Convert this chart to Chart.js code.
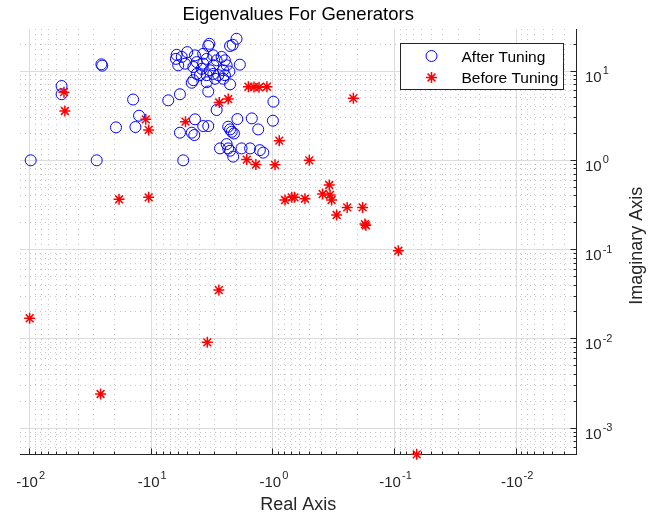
<!DOCTYPE html>
<html>
<head>
<meta charset="utf-8">
<script src="https://cdn.jsdelivr.net/npm/chart.js@4.4.1/dist/chart.umd.min.js"></script>
<style>
  html, body { margin: 0; padding: 0; background: #fff; }
  #wrap { width: 661px; height: 516px; }
</style>
</head>
<body>
<div id="wrap"><canvas id="eigChart" width="661" height="516"></canvas></div>
<script>
/* Eigenvalues For Generators - log/log scatter of eigenvalues */
const FONT = '"Liberation Sans", Arial, Helvetica, sans-serif';

// After tuning eigenvalues (real part, imaginary part)
const afterRe = [-25.7, -25.3, -54.6, -54.6, -14.1, -12.6, -13.5, -19.5, -98, -28.1,
  -1.99, -2.14, -2.25, -3.33, -3.40, -5.06, -6.18, -6.27, -6.0, -5.62,
  -5.28, -4.37, -4.23, -4.51, -3.74, -3.50, -3.74, -3.85, -3.09, -2.90,
  -3.09, -3.29, -2.64, -2.48, -2.40, -2.56, -2.28, -1.87, -4.23, -3.98,
  -3.50, -3.09, -2.81, -2.48, -4.51, -4.65, -3.50, -2.99, -2.56, -2.25,
  -3.40, -5.81, -7.25, -2.90, -4.37, -3.74, -3.40, -5.81, -4.65, -4.43,
  -1.96, -1.49, -1.32, -1.00, -2.33, -2.25, -2.18, -2.09, -2.72, -2.40,
  -2.33, -2.25, -2.12, -1.81, -1.54, -1.28, -1.20, -5.46, -0.99];
const afterIm = [11.9, 11.5, 6.8, 5.5, 4.8, 3.16, 2.36, 2.34, 1.0, 1.0,
  23.0, 19.7, 19.1, 20.2, 19.1, 16.3, 15.2, 13.7, 11.6, 14.4,
  12.1, 15.0, 12.6, 11.1, 15.6, 13.7, 12.1, 10.6, 15.0, 13.2,
  11.6, 10.2, 14.4, 13.2, 11.6, 10.2, 9.9, 11.8, 9.3, 9.0,
  9.0, 9.3, 9.0, 9.0, 7.9, 7.4, 7.5, 8.2, 8.2, 7.1,
  5.9, 5.5, 4.7, 3.66, 2.88, 2.42, 2.42, 2.04, 2.04, 1.92,
  2.90, 2.95, 2.22, 2.78, 2.38, 2.22, 2.09, 2.0, 1.36, 1.52,
  1.36, 1.28, 1.10, 1.36, 1.36, 1.30, 1.22, 1.0, 4.54];

// Before tuning eigenvalues
const beforeRe = [-52.2, -51.3, -11.1, -10.5, -18.4, -10.5, -1.59, -1.43, -1.30, -1.12,
  -2.76, -2.33, -5.23, -0.886, -1.64, -1.38, -0.961, -0.218, -0.502, -0.344,
  -0.390, -0.339, -0.329, -0.795, -0.700, -0.664, -0.545, -0.245, -0.183, -0.299,
  -0.175, -0.172, -0.093, -2.78, -100, -3.46, -26.1, -0.0657];
const beforeIm = [5.8, 3.57, 2.88, 2.19, 0.366, 0.385, 6.68, 6.63, 6.58, 6.68,
  4.44, 4.86, 2.71, 1.66, 1.02, 0.897, 0.89, 4.95, 1.0, 0.529,
  0.419, 0.409, 0.359, 0.359, 0.385, 0.385, 0.371, 0.297, 0.297, 0.244,
  0.193, 0.187, 0.097, 0.0352, 0.017, 0.00914, 0.00241, 0.000508];

// Axis ticks (x shows |real part|, labelled as negative powers of ten)
const xTickValues = [100, 10, 1, 0.1, 0.01];
const xTickLabels = ['-10^2', '-10^1', '-10^0', '-10^-1', '-10^-2'];
const yTickValues = [10, 1, 0.1, 0.01, 0.001];
const yTickLabels = ['10^1', '10^0', '10^-1', '10^-2', '10^-3'];
const minorSteps = [2, 3, 4, 5, 6, 7, 8, 9];

const X_MIN = 0.00319, X_MAX = 120;
const Y_MIN = 0.000506, Y_MAX = 29.6;

function minorTicks(min, max) {
  const out = [];
  for (let e = Math.floor(Math.log10(min)); e <= Math.ceil(Math.log10(max)); e++) {
    minorSteps.forEach(m => {
      const v = m * Math.pow(10, e);
      if (v >= min && v <= max) out.push({ value: v });
    });
  }
  return out;
}

const toPoints = (re, im) => re.map((r, i) => ({ x: Math.abs(r), y: im[i] }));
const align = p => Math.round(p - 0.5) + 0.5;

// "10^k" label with a real raised exponent
function powerLabel(ctx, text, x, baseY, centered) {
  const [base, exp] = text.split('^');
  ctx.font = '15px ' + FONT;
  const wb = ctx.measureText(base).width;
  ctx.font = '11px ' + FONT;
  const we = ctx.measureText(exp).width;
  const left = centered ? x - (wb + 1 + we) / 2 + 1 : x;
  ctx.font = '15px ' + FONT;
  ctx.fillText(base, left, baseY);
  ctx.font = '11px ' + FONT;
  ctx.fillText(exp, left + wb + 1, baseY - 7.5);
}

// inward tick marks, tick labels and rotated y label
const axisDecor = {
  id: 'axisDecor',
  afterDatasetsDraw(chart) {
    const { ctx, chartArea: a, scales } = chart;
    ctx.save();
    ctx.strokeStyle = '#262626';
    ctx.lineWidth = 1;
    ctx.beginPath();
    const mark = (scale, len) => {
      scale.ticks.forEach(t => {
        const p = align(scale.getPixelForValue(t.value));
        if (scale.isHorizontal()) { ctx.moveTo(p, align(a.bottom)); ctx.lineTo(p, align(a.bottom) - len); }
        else { ctx.moveTo(align(a.right), p); ctx.lineTo(align(a.right) - len, p); }
      });
    };
    mark(scales.x, 6); mark(scales.xMinor, 3);
    mark(scales.y, 6); mark(scales.yMinor, 3);
    ctx.stroke();

    ctx.fillStyle = '#262626';
    ctx.textAlign = 'left';
    ctx.textBaseline = 'alphabetic';
    xTickValues.forEach((v, i) => {
      powerLabel(ctx, xTickLabels[i], scales.x.getPixelForValue(v), a.bottom + 32, true);
    });
    yTickValues.forEach((v, i) => {
      powerLabel(ctx, yTickLabels[i], a.right + 8.5, scales.y.getPixelForValue(v) + 10.5, false);
    });

    const yt = scales.y.options.title;
    ctx.font = '18px ' + FONT;
    ctx.textAlign = 'center';
    ctx.textBaseline = 'middle';
    ctx.translate(637, (a.top + a.bottom) / 2 + 4);
    ctx.rotate(-Math.PI / 2);
    ctx.fillText(yt.text, 0, 0);
    ctx.restore();
  }
};

// boxed legend in the upper right corner
const boxLegend = {
  id: 'boxLegend',
  afterDraw(chart) {
    const { ctx } = chart;
    const L = 400.5, T = 43.5, W = 163, H = 46;
    ctx.save();
    ctx.fillStyle = '#fff';
    ctx.fillRect(L, T, W, H);
    ctx.strokeStyle = '#262626';
    ctx.lineWidth = 1;
    ctx.strokeRect(L, T, W, H);
    chart.data.datasets.forEach((ds, i) => {
      const cx = L + 31, cy = T + 12.5 + i * 21.5, r = ds.pointRadius;
      ctx.strokeStyle = ds.borderColor;
      ctx.lineWidth = ds.borderWidth;
      ctx.beginPath();
      if (ds.pointStyle === 'circle') {
        ctx.arc(cx, cy, r, 0, Math.PI * 2);
      } else {
        for (let k = 0; k < 4; k++) {
          const ang = k * Math.PI / 4;
          ctx.moveTo(cx - Math.cos(ang) * r, cy - Math.sin(ang) * r);
          ctx.lineTo(cx + Math.cos(ang) * r, cy + Math.sin(ang) * r);
        }
      }
      ctx.stroke();
      ctx.fillStyle = '#000';
      ctx.font = '15.5px ' + FONT;
      ctx.textAlign = 'left';
      ctx.textBaseline = 'middle';
      ctx.fillText(ds.label, L + 61, cy + 1.5);
    });
    ctx.restore();
  }
};

new Chart(document.getElementById('eigChart'), {
  type: 'scatter',
  data: {
    datasets: [{
      label: 'After Tuning',
      data: toPoints(afterRe, afterIm),
      xAxisID: 'x', yAxisID: 'y',
      pointStyle: 'circle', pointRadius: 5.5, borderWidth: 1,
      borderColor: '#0000ff', backgroundColor: 'rgba(0,0,0,0)',
      clip: false, order: 2
    }, {
      label: 'Before Tuning',
      data: toPoints(beforeRe, beforeIm),
      xAxisID: 'x', yAxisID: 'y',
      pointStyle: 'star', pointRadius: 5.5, borderWidth: 1.5,
      borderColor: '#ff0000', backgroundColor: '#ff0000',
      clip: false, order: 1
    }]
  },
  options: {
    responsive: false,
    animation: false,
    events: [],
    devicePixelRatio: 1,
    layout: { padding: { left: 20, right: 0, top: 0, bottom: 0 } },
    plugins: {
      legend: { display: false },
      tooltip: { enabled: false },
      title: {
        display: true, text: 'Eigenvalues For Generators', color: '#000', fullSize: false,
        font: { family: FONT, size: 18.5, weight: 'normal', lineHeight: 1.2 },
        padding: { top: 3.5, bottom: 3.3 }
      }
    },
    scales: {
      x: {
        type: 'logarithmic', position: 'bottom', reverse: true,
        min: X_MIN, max: X_MAX, bounds: 'data',
        afterBuildTicks: s => { s.ticks = xTickValues.map(v => ({ value: v })); },
        afterFit: s => { s.height = 61.5; },
        grid: { color: '#dcdcdc', lineWidth: 1, drawTicks: false },
        border: { display: true, color: '#262626', width: 1 },
        ticks: { display: false },
        title: {
          display: true, text: 'Real Axis', color: '#262626',
          font: { family: FONT, size: 18 }, padding: { top: 0, bottom: 0 }
        }
      },
      xMinor: {
        type: 'logarithmic', position: 'bottom', reverse: true,
        min: X_MIN, max: X_MAX, bounds: 'data',
        afterBuildTicks: s => { s.ticks = minorTicks(X_MIN, X_MAX); },
        afterFit: s => { s.height = 0; },
        grid: { color: '#c6c6c6', lineWidth: 1, drawTicks: false },
        border: { display: false, dash: [1, 4] },
        ticks: { display: false }
      },
      y: {
        type: 'logarithmic', position: 'right',
        min: Y_MIN, max: Y_MAX, bounds: 'data',
        afterBuildTicks: s => { s.ticks = yTickValues.map(v => ({ value: v })); },
        afterFit: s => { s.width = 84.5; },
        grid: { color: '#dcdcdc', lineWidth: 1, drawTicks: false },
        border: { display: true, color: '#262626', width: 1 },
        ticks: { display: false },
        title: { display: false, text: 'Imaginary Axis' }
      },
      yMinor: {
        type: 'logarithmic', position: 'right',
        min: Y_MIN, max: Y_MAX, bounds: 'data',
        afterBuildTicks: s => { s.ticks = minorTicks(Y_MIN, Y_MAX); },
        afterFit: s => { s.width = 0; },
        grid: { color: '#c6c6c6', lineWidth: 1, drawTicks: false },
        border: { display: false, dash: [1, 4] },
        ticks: { display: false }
      }
    }
  },
  plugins: [axisDecor, boxLegend]
});
</script>
</body>
</html>
